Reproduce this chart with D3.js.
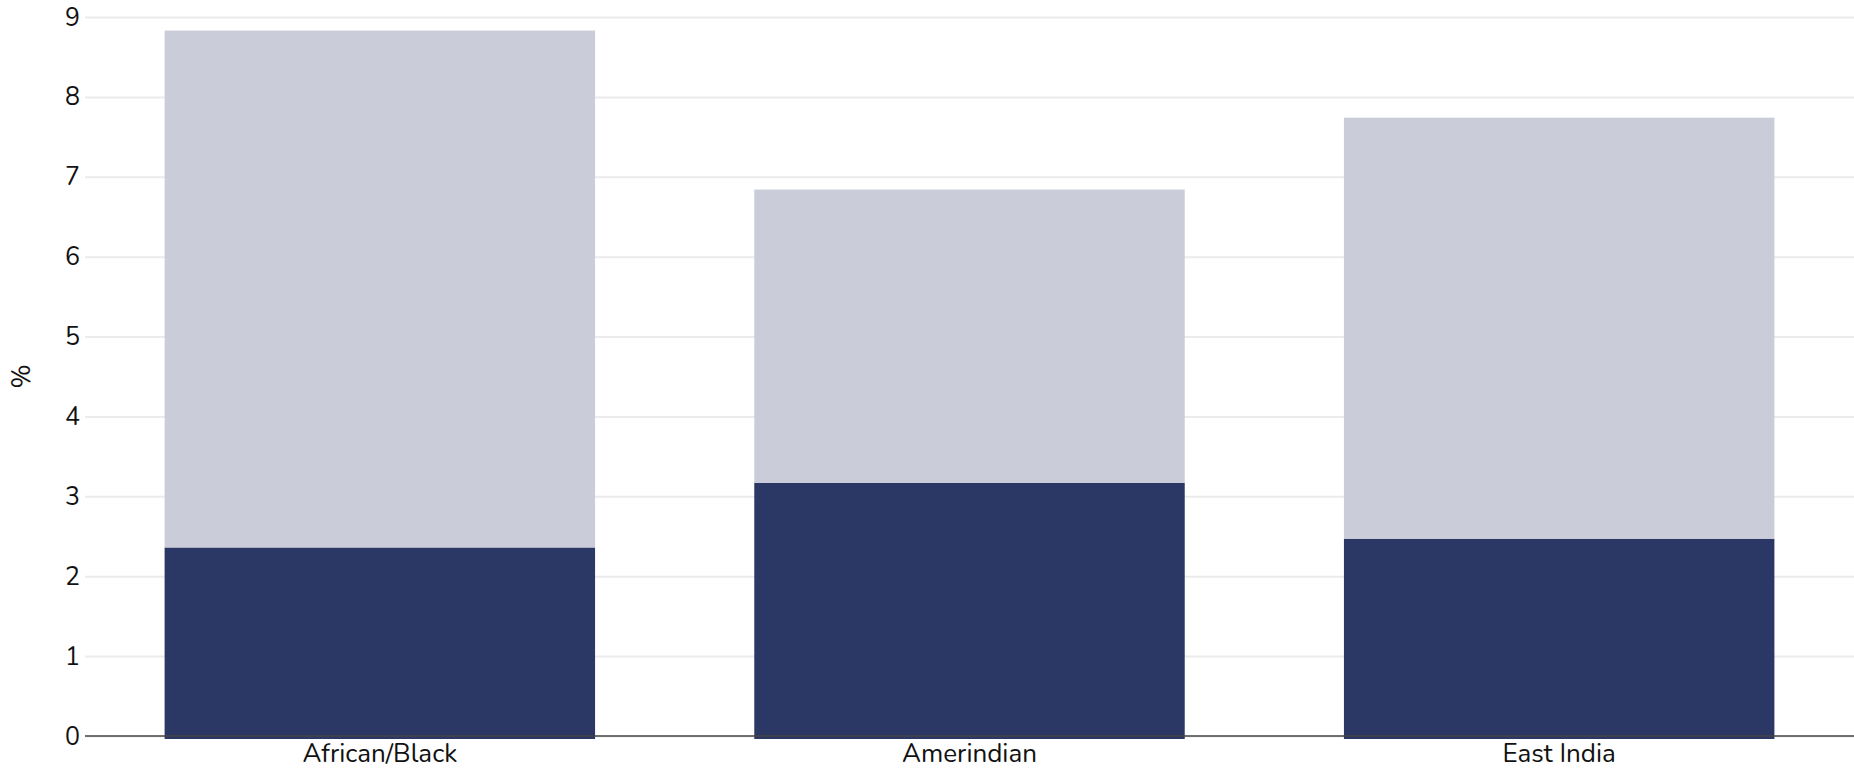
<!DOCTYPE html>
<html>
<head>
<meta charset="utf-8">
<script src="https://cdn.jsdelivr.net/npm/d3@7"></script>
<style>
    body { margin: 0; background: #fff; }
    .genText { font-family: "Nunito", "Lato", sans-serif; fill: #111; }
    .grid line { stroke: #ebebeb; stroke-width: 2px; }
    .grid .domain { display: none; }
</style>
</head>
<body>
<div id="chart"></div>
<script>
// data
let categories = ["African/Black", "Amerindian", "East India"];
let darkValues = [2.36, 3.17, 2.47];      // bottom segment
let lightValues = [6.47, 3.67, 5.27];     // stacked on top
let yTicks = [0, 1, 2, 3, 4, 5, 6, 7, 8, 9];

let colors = {dark: "#2b3764", light: "#cacdd9"};

let margin = {top: 17, right: 0, bottom: 36, left: 85};
let width = 1854 - margin.left - margin.right;
let height = 772 - margin.top - margin.bottom;

let svg = d3.select("#chart").append("svg")
    .attr("width", 1854)
    .attr("height", 772)
    .append("g")
    .attr("transform", `translate(${margin.left}, ${margin.top})`);

let rows = categories.map((c, i) => ({cat: c, dark: darkValues[i], light: lightValues[i]}));
let stacked = d3.stack().keys(["dark", "light"])(rows);

let x = d3.scaleBand()
    .domain(categories)
    .range([0, width])
    .paddingInner(0.27)
    .paddingOuter(0.135);

let y = d3.scaleLinear()
    .domain([0, 9])
    .range([height, 0]);

// gridlines
svg.append("g")
    .attr("class", "grid")
    .call(d3.axisLeft(y).tickValues(yTicks).tickSize(-width).tickFormat(""));

// bars
svg.selectAll("g.layer")
    .data(stacked)
    .enter()
    .append("g")
    .attr("class", "layer")
    .attr("fill", d => colors[d.key])
    .selectAll("rect")
    .data(d => d)
    .enter()
    .append("rect")
    .attr("x", d => x(d.data.cat))
    .attr("width", x.bandwidth())
    .attr("y", d => y(d[1]))
    .attr("height", d => y(d[0]) - y(d[1]) + (d[0] === 0 ? 3 : 0));

// zero line
svg.append("line")
    .attr("x1", 0)
    .attr("x2", width)
    .attr("y1", y(0))
    .attr("y2", y(0))
    .attr("stroke", "#444")
    .attr("stroke-width", 1.5);

// y tick labels
let yAxis = svg.append("g")
    .attr("class", "genText")
    .call(d3.axisLeft(y).tickValues(yTicks).tickSize(0).tickPadding(5));
yAxis.select(".domain").remove();
yAxis.selectAll("text")
    .attr("class", "genText")
    .style("font-size", "25px");

// x labels
let xAxis = svg.append("g")
    .attr("transform", `translate(0, ${height})`)
    .call(d3.axisBottom(x).tickSize(0).tickPadding(8));
xAxis.select(".domain").remove();
xAxis.selectAll("text")
    .attr("class", "genText")
    .style("font-size", "26px");

// y axis title
svg.append("text")
    .attr("class", "genText")
    .attr("transform", `translate(${-margin.left + 30}, ${y(4.5)}) rotate(-90)`)
    .attr("text-anchor", "middle")
    .style("font-size", "26px")
    .text("%");
</script>
</body>
</html>
